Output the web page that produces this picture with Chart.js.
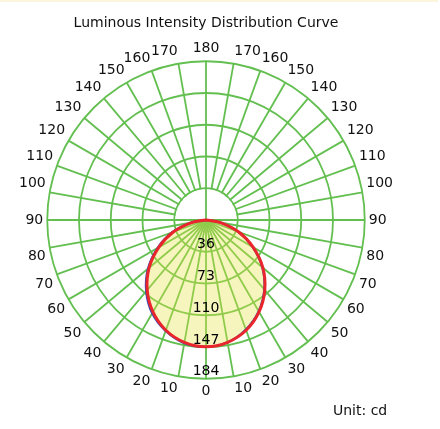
<!DOCTYPE html>
<html>
<head>
<meta charset="utf-8">
<script src="https://cdn.jsdelivr.net/npm/chart.js@4.4.0/dist/chart.umd.min.js"></script>
<style>
  html, body { margin: 0; padding: 0; background: #fff; }
  #wrap { position: relative; width: 440px; height: 429px; }
  #strip { position: absolute; left: 0; top: 0; width: 438px; height: 2px; background: #fcf4dc; }
  #unit { position: absolute; left: 333px; top: 402px; font: 14px 'DejaVu Sans'; color: #111; }
</style>
</head>
<body>
<div id="wrap">
  <div id="strip"></div>
  <canvas id="curve"></canvas>
  <div id="unit">Unit: cd</div>
</div>
<script>
// gamma labels, clockwise from the top of the dial
const angleLabels = ['180', '170', '160', '150', '140', '130', '120', '110', '100', '90',
  '80', '70', '60', '50', '40', '30', '20', '10', '0',
  '10', '20', '30', '40', '50', '60', '70', '80', '90', '100', '110', '120', '130', '140', '150', '160', '170'];

// candela, same order as angleLabels
const planeC0 = [0, 0, 0, 0, 0, 0, 0, 0, 0, 0,
  17, 40, 63, 86, 106, 123, 136, 144, 147,
  144, 136, 123, 106, 86, 63, 40, 17, 0, 0, 0, 0, 0, 0, 0, 0, 0];
const planeC90 = [0, 0, 0, 0, 0, 0, 0, 0, 0, 0,
  17, 39, 62, 85, 105, 122, 135, 144, 147,
  145, 137, 125, 108, 88, 65, 42, 18, 0, 0, 0, 0, 0, 0, 0, 0, 0];

const ringLabels = ['36', '73', '110', '147', '184'];
const maxIntensity = 184;

const green = '#63bf50';
Chart.defaults.font.family = "'DejaVu Sans', Verdana, sans-serif";

const ringText = {
  id: 'ringText',
  beforeDatasetsDraw(chart) {
    // the original leaves the top half of the first ring empty
    const s = chart.scales.r;
    const ctx = chart.ctx;
    const r1 = s.getDistanceFromCenterForValue(s.ticks[1].value);
    ctx.save();
    ctx.fillStyle = '#fff';
    ctx.beginPath();
    ctx.arc(s.xCenter, s.yCenter, r1 - 1, Math.PI, 2 * Math.PI);
    ctx.closePath();
    ctx.fill();
    ctx.strokeStyle = green;
    ctx.lineWidth = 1.8;
    ctx.beginPath();
    ctx.moveTo(s.xCenter, s.yCenter - r1);
    ctx.lineTo(s.xCenter, s.yCenter);
    ctx.moveTo(s.xCenter - r1, s.yCenter);
    ctx.lineTo(s.xCenter + r1, s.yCenter);
    ctx.stroke();
    ctx.restore();
  },
  afterDatasetsDraw(chart) {
    const s = chart.scales.r;
    const ctx = chart.ctx;
    ctx.save();
    ctx.font = "14px 'DejaVu Sans'";
    ctx.fillStyle = '#000';
    ctx.textAlign = 'center';
    ctx.textBaseline = 'middle';
    ringLabels.forEach((t, i) => {
      const d = s.getDistanceFromCenterForValue(s.ticks[i + 1].value);
      ctx.fillText(t, s.xCenter, s.yCenter + d - 7);
    });
    ctx.restore();
  }
};

new Chart(document.getElementById('curve'), {
  type: 'radar',
  data: {
    labels: angleLabels,
    datasets: [
      {
        label: 'C0-C180',
        data: planeC0,
        borderColor: '#e8262b',
        borderWidth: 3,
        backgroundColor: 'rgba(232,226,69,0.35)',
        fill: 'origin',
        pointRadius: 0,
        tension: 0.4
      },
      {
        label: 'C90-C270',
        data: planeC90,
        borderColor: '#3346b8',
        borderWidth: 2,
        fill: false,
        pointRadius: 0,
        tension: 0.4
      }
    ]
  },
  options: {
    responsive: true,
    maintainAspectRatio: false,
    animation: false,
    layout: { padding: { left: 19, right: 47, top: 0, bottom: 27 } },
    scales: {
      r: {
        min: 0,
        max: maxIntensity,
        ticks: { display: false, count: ringLabels.length + 1 },
        grid: { circular: true, color: green, lineWidth: 1.8 },
        angleLines: { color: green, lineWidth: 1.8 },
        pointLabels: { font: { size: 14 }, color: '#111', padding: 4 }
      }
    },
    plugins: {
      legend: { display: false },
      tooltip: { enabled: false },
      filler: { drawTime: 'beforeDatasetsDraw' },
      title: {
        display: true,
        text: 'Luminous Intensity Distribution Curve',
        color: '#111',
        font: { size: 14, weight: 'normal' },
        padding: { top: 15, bottom: 8 }
      }
    }
  },
  plugins: [ringText]
});
</script>
</body>
</html>
